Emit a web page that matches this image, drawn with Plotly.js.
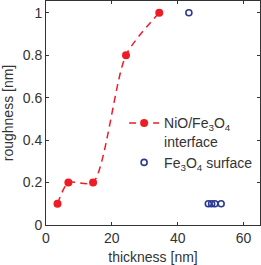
<!DOCTYPE html>
<html>
<head>
<meta charset="utf-8">
<script src="https://cdn.plot.ly/plotly-3.0.1.min.js"></script>
<style>html,body{margin:0;padding:0;background:#fff;}#chart{width:261px;height:265px;}</style>
</head>
<body>
<div id="chart"></div>
<script>
var interfaceThickness = [3.5, 6.8, 14.3, 24.3, 34.4];
var interfaceRoughness = [0.1, 0.2, 0.2, 0.8, 1.0];
var surfaceThickness = [43.4, 49.3, 50.3, 51.3, 53.2];
var surfaceRoughness = [1.0, 0.1, 0.1, 0.1, 0.1];
var seriesNames = ['NiO/Fe<sub>3</sub>O<sub>4</sub><br>interface', 'Fe<sub>3</sub>O<sub>4</sub> surface'];
var xTicks = [0, 20, 40, 60];
var yTicks = [0, 0.2, 0.4, 0.6, 0.8, 1];

var font = {family: 'Liberation Sans, Arial, sans-serif', size: 14, color: '#333'};
var traces = [
  {x: interfaceThickness, y: interfaceRoughness, name: seriesNames[0], type: 'scatter', mode: 'lines+markers',
   line: {color: '#ee1c25', width: 1.5, dash: '7px,5px', shape: 'spline', smoothing: 0.7},
   marker: {color: '#ee1c25', size: 8, symbol: 'circle'}},
  {x: surfaceThickness, y: surfaceRoughness, name: seriesNames[1], type: 'scatter', mode: 'markers',
   marker: {color: '#2b3990', size: 6, symbol: 'circle-open', line: {color: '#2b3990', width: 1.6}}}
];
var axisCommon = {showgrid: false, zeroline: false, showline: true, linecolor: '#333', linewidth: 1,
  mirror: 'ticks', ticks: 'inside', ticklen: 3, tickcolor: '#333', tickfont: font};
var layout = {
  width: 261, height: 265,
  margin: {l: 46, r: 1, t: 1, b: 40},
  paper_bgcolor: '#fff', plot_bgcolor: '#fff',
  font: font,
  showlegend: true,
  legend: {x: 0.365, y: 0.525, xanchor: 'left', yanchor: 'top', bgcolor: 'rgba(0,0,0,0)', borderwidth: 0,
    font: font, valign: 'top', tracegroupgap: 0, itemwidth: 30},
  xaxis: Object.assign({}, axisCommon, {range: [0, 65], tickvals: xTicks, ticktext: xTicks.map(String),
    title: {text: 'thickness [nm]', font: font, standoff: 7}}),
  yaxis: Object.assign({}, axisCommon, {range: [0, 1.055], tickvals: yTicks, ticktext: yTicks.map(String),
    title: {text: 'roughness [nm]', font: font, standoff: 10}})
};
Plotly.newPlot('chart', traces, layout, {displayModeBar: false, staticPlot: true});
</script>
</body>
</html>
